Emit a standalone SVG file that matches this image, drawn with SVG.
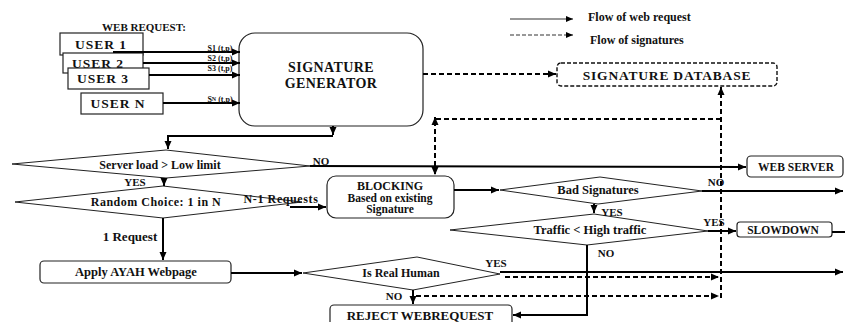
<svg xmlns="http://www.w3.org/2000/svg" width="845" height="322" viewBox="0 0 845 322" font-family="'Liberation Serif', 'Times New Roman', 'DejaVu Serif', serif">
<defs>
<marker id="ah" markerUnits="userSpaceOnUse" markerWidth="9" markerHeight="8" refX="8" refY="4" orient="auto"><path d="M0,0.5 L8,4 L0,7.5 z" fill="#000"/></marker>
<marker id="ahs" markerUnits="userSpaceOnUse" markerWidth="8" markerHeight="7" refX="7" refY="3.5" orient="auto"><path d="M0,0.5 L7,3.5 L0,6.5 z" fill="#000"/></marker>
</defs>
<style>
text { font-family: 'Liberation Serif', 'Times New Roman', 'DejaVu Serif', serif; font-weight: bold; fill:#111; text-anchor: middle; dominant-baseline: central; }
.box { fill:#fff; stroke:#222; stroke-width:1.2; }
.dbox { fill:#fff; stroke:#111; stroke-width:1.4; stroke-dasharray:4 2; }
.dia { fill:none; stroke:#222; stroke-width:1; }
.flow { fill:none; stroke:#000; stroke-width:2; }
.sig { fill:none; stroke:#000; stroke-width:2; stroke-dasharray:5 3; }
.leg { fill:none; stroke:#333; stroke-width:1.2; }
.lbl { font-size:11px; }
.sl { font-size:8px; }
</style>
<rect width="845" height="322" fill="#fff"/>

<g id="legend">
<line class="leg" x1="510" y1="19" x2="573" y2="19" marker-end="url(#ahs)"/>
<text x="588" y="17" font-size="12" style="text-anchor:start">Flow of web request</text>
<line class="leg" x1="510" y1="35" x2="573" y2="35" stroke-dasharray="4 2" marker-end="url(#ahs)"/>
<text x="590" y="40" font-size="12" style="text-anchor:start">Flow of signatures</text>
</g>

<text x="144" y="27" font-size="11">WEB REQUEST:</text>

<g id="user1"><rect class="box" x="60" y="33" width="83" height="22"/><text x="101" y="44" font-size="13.5" letter-spacing="1">USER 1</text></g>
<g id="user2"><rect class="box" x="63" y="53" width="80" height="20"/><text x="98" y="63" font-size="13.5" letter-spacing="1">USER 2</text></g>
<g id="user3"><rect class="box" x="68" y="68" width="81" height="21"/><text x="103" y="78.5" font-size="13.5" letter-spacing="1">USER 3</text></g>
<g id="userN"><rect class="box" x="81" y="93" width="82" height="21"/><text x="118" y="103.5" font-size="13.5" letter-spacing="1">USER N</text></g>

<g id="signature-generator"><rect class="box" x="239" y="33" width="184" height="93" rx="16"/>
<text x="331" y="67.5" font-size="14" letter-spacing="0.4">SIGNATURE</text><text x="331" y="83" font-size="14" letter-spacing="0.4">GENERATOR</text></g>

<g id="signature-database"><rect class="dbox" x="557" y="63" width="220" height="23" rx="4"/><text x="667" y="75" font-size="13.5" letter-spacing="0.8">SIGNATURE DATABASE</text></g>

<g id="server-load"><polygon class="dia" points="12,164 166,150 310,166 166,178"/><text x="160" y="165" font-size="12">Server load &gt; Low limit</text></g>
<g id="random-choice"><polygon class="dia" points="15,202 163,186 302,202 163,218"/><text x="156" y="202" font-size="12" letter-spacing="0.5">Random Choice: 1 in N</text></g>
<g id="blocking"><rect class="box" x="327" y="176" width="127" height="42" rx="9"/>
<text x="390" y="186" font-size="12">BLOCKING</text><text x="390" y="197.5" font-size="11.5">Based on existing</text><text x="390" y="209" font-size="11.5">Signature</text></g>
<g id="web-server"><rect class="box" x="747" y="156" width="96" height="21" rx="4"/><text x="796" y="166.5" font-size="11.5">WEB SERVER</text></g>
<g id="bad-signatures"><polygon class="dia" points="500,190 600,177 702,191 598,204"/><text x="598" y="190" font-size="12.5">Bad Signatures</text></g>
<g id="traffic"><polygon class="dia" points="450,230 594,214 708,231 587,245"/><text x="590" y="230" font-size="12.5">Traffic &lt; High traffic</text></g>
<g id="slowdown"><rect class="box" x="737" y="222" width="95" height="15" rx="3"/><text x="783" y="230" font-size="11.5">SLOWDOWN</text></g>
<g id="apply-ayah"><rect class="box" x="40" y="261" width="191" height="22" rx="4"/><text x="136" y="272" font-size="12.5">Apply AYAH Webpage</text></g>
<g id="is-real-human"><polygon class="dia" points="303,273 417,257 500,274 413,290"/><text x="401" y="273" font-size="12">Is Real Human</text></g>
<g id="reject"><rect class="box" x="330" y="305" width="182" height="22" rx="4"/><text x="420" y="315" font-size="13">REJECT WEBREQUEST</text></g>

<g id="connectors">
<path class="flow" d="M113,52 H240" marker-end="url(#ah)"/>
<path class="flow" d="M143,63 H240" marker-end="url(#ah)"/>
<path class="flow" d="M149,75 H240" marker-end="url(#ah)"/>
<path class="flow" d="M163,103 H240" marker-end="url(#ah)"/>
<text class="sl" x="220" y="48">S1 (t,p)</text>
<text class="sl" x="220" y="58">S2 (t,p)</text>
<text class="sl" x="220" y="68">S3 (t,p)</text>
<text class="sl" x="220" y="99">S<tspan font-size="6">N</tspan> (t,p)</text>

<path class="flow" d="M333,126 V135" marker-end="url(#ah)"/>
<path class="flow" d="M333,136 H168 V149" marker-end="url(#ah)"/>

<path class="sig" d="M423,74 H556" marker-end="url(#ah)"/>
<path class="sig" d="M721,298 V87" marker-end="url(#ah)"/>
<path class="sig" d="M721,119 H435 V175" marker-end="url(#ah)"/>
<path class="flow" d="M435,125 V117" marker-end="url(#ah)"/>

<path class="flow" d="M310,166 L746,167" marker-end="url(#ah)"/>
<text class="lbl" x="321" y="161">NO</text>
<path class="flow" d="M164,178 V186" marker-end="url(#ah)"/>
<text class="lbl" x="135" y="182">YES</text>

<path class="flow" d="M290,207 H326" marker-end="url(#ah)"/>
<text x="281" y="199" font-size="12" letter-spacing="0.6">N-1 Requests</text>

<path class="flow" d="M454,190 H499" marker-end="url(#ah)"/>
<path class="flow" d="M702,191 H843" marker-end="url(#ah)"/>
<text class="lbl" x="716" y="182">NO</text>
<path class="flow" d="M594,204 V213" marker-end="url(#ah)"/>
<text class="lbl" x="612" y="212">YES</text>

<path class="flow" d="M708,231 H736" marker-end="url(#ah)"/>
<text class="lbl" x="714" y="222">YES</text>
<path class="flow" d="M832,232 H845"/>
<path class="flow" d="M587,245 V315 H513" marker-end="url(#ah)"/>
<text class="lbl" x="606" y="253">NO</text>

<path class="flow" d="M163,218 V260" marker-end="url(#ah)"/>
<text x="130" y="236" font-size="13">1 Request</text>
<path class="flow" d="M231,273 H302" marker-end="url(#ah)"/>

<path class="flow" d="M500,272 H843" marker-end="url(#ah)"/>
<text class="lbl" x="496" y="263">YES</text>
<path class="sig" d="M505,277 H719" marker-end="url(#ah)"/>
<path class="flow" d="M413,290 V304" marker-end="url(#ah)"/>
<text class="lbl" x="394" y="296">NO</text>
<path class="sig" d="M416,296 H719" marker-end="url(#ah)"/>
</g>
</svg>
